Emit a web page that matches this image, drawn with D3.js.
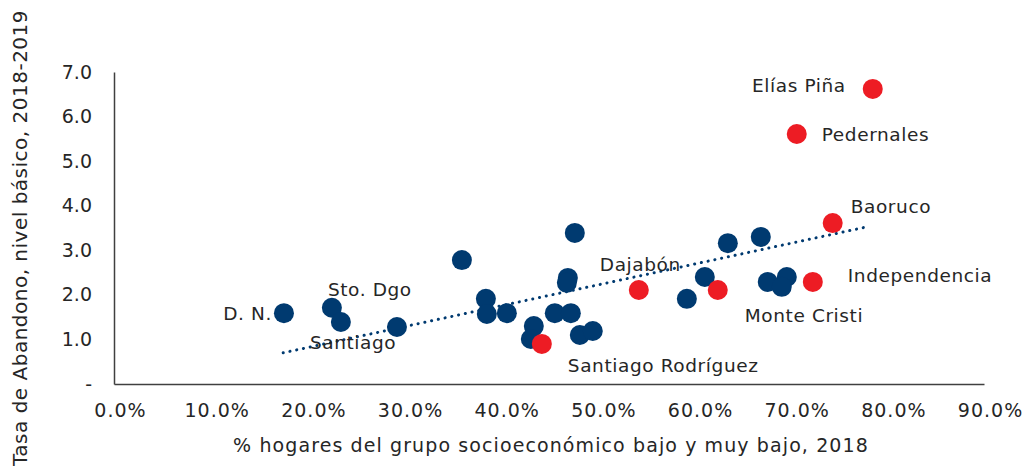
<!DOCTYPE html>
<html>
<head>
<meta charset="utf-8">
<script src="https://cdn.jsdelivr.net/npm/d3@7"></script>
<style>
  html, body { margin: 0; padding: 0; background: #ffffff; }
  svg { display: block; }
  text { font-family: "DejaVu Sans", sans-serif; fill: #262626; }
</style>
</head>
<body>
<div id="chart"></div>
<script>
// ---- Data ----
// x: % households in low / very low socioeconomic group, 2018 (fraction)
// y: dropout rate, basic level, 2018-2019
const provinces = [
  "D. N.", "Sto. Dgo", "Santiago", "P4", "P5", "P6", "P7", "P8", "P9", "P10",
  "Santiago Rodríguez", "P12", "P13", "P14", "P15", "P16", "P17", "P18",
  "Dajabón", "P20", "P21", "Monte Cristi", "P23", "P24", "P25", "P26", "P27",
  "Independencia", "Baoruco", "Pedernales", "Elías Piña"
];
const xValues = [
  0.1758, 0.2254, 0.2347, 0.2927, 0.3599, 0.3847, 0.3857, 0.4064, 0.4343, 0.4312,
  0.4426, 0.4560, 0.4726, 0.4695, 0.4685, 0.4767, 0.4819, 0.4953,
  0.5429, 0.5926, 0.6112, 0.6246, 0.6350, 0.6691, 0.6763, 0.6960, 0.6908,
  0.7229, 0.7435, 0.7063, 0.7849
];
const yValues = [
  1.59, 1.71, 1.39, 1.28, 2.78, 1.91, 1.57, 1.59, 1.30, 1.01,
  0.90, 1.59, 1.59, 2.38, 2.27, 3.39, 1.10, 1.19,
  2.11, 1.91, 2.40, 2.11, 3.16, 3.30, 2.29, 2.40, 2.18,
  2.29, 3.61, 5.61, 6.62
];
// highlighted (border) provinces drawn in red
const highlighted = ["Santiago Rodríguez", "Dajabón", "Monte Cristi", "Independencia", "Baoruco", "Pedernales", "Elías Piña"];
// labelled provinces
const labelled = ["D. N.", "Sto. Dgo", "Santiago", "Santiago Rodríguez", "Dajabón", "Monte Cristi", "Independencia", "Baoruco", "Pedernales", "Elías Piña"];
// linear trend line endpoints
const trendX = [0.175, 0.782];
const trendY = [0.70, 3.54];
// axis ticks
const xTicks = [0, 0.1, 0.2, 0.3, 0.4, 0.5, 0.6, 0.7, 0.8, 0.9];
const yTicks = [0, 1, 2, 3, 4, 5, 6, 7];
const xTitle = "% hogares del grupo socioeconómico bajo y muy bajo, 2018";
const yTitle = "Tasa de Abandono, nivel básico, 2018-2019";

// ---- Styles / layout ----
const W = 1029, H = 473;
const NAVY = "#003a70", RED = "#ed1c24", AXIS = "#404040";
const labelStyle = {
  "D. N.":              { anchor: "end",   dx: -12, dy: 0 },
  "Sto. Dgo":           { anchor: "start", dx: -4,  dy: -18 },
  "Santiago":           { anchor: "start", dx: -31, dy: 20 },
  "Santiago Rodríguez": { anchor: "start", dx: 26,  dy: 22 },
  "Dajabón":            { anchor: "start", dx: -39, dy: -25 },
  "Monte Cristi":       { anchor: "start", dx: 27,  dy: 26 },
  "Independencia":      { anchor: "start", dx: 35,  dy: -6 },
  "Baoruco":            { anchor: "start", dx: 18,  dy: -17 },
  "Pedernales":         { anchor: "start", dx: 25,  dy: 1 },
  "Elías Piña":         { anchor: "end",   dx: -27, dy: -3 }
};

const points = provinces.map((p, i) => ({ name: p, x: xValues[i], y: yValues[i], red: highlighted.includes(p) }));

const svg = d3.select("#chart").append("svg").attr("width", W).attr("height", H);

const x = d3.scaleLinear().domain([0, 0.9]).range([114, 984]);
const y = d3.scaleLinear().domain([0, 7]).range([384, 72]);

// X axis
const xAxis = svg.append("g").attr("transform", "translate(0,384)")
  .call(d3.axisBottom(x).tickValues(xTicks).tickSize(0).tickPadding(20)
    .tickFormat(d => d3.format(".1f")(d * 100) + "%"));
xAxis.select(".domain").attr("stroke", AXIS).attr("stroke-width", 1.5);
xAxis.selectAll("text").attr("font-size", 19).attr("dx", 6).attr("letter-spacing", 1)
  .style("font-family", '"DejaVu Sans", sans-serif').attr("fill", "#262626");

// Y axis
const yAxis = svg.append("g").attr("transform", "translate(114,0)")
  .call(d3.axisLeft(y).tickValues(yTicks).tickSize(0).tickPadding(22)
    .tickFormat(d => d === 0 ? "-" : d3.format(".1f")(d)));
yAxis.select(".domain").attr("stroke", AXIS).attr("stroke-width", 1.5);
yAxis.selectAll("text").attr("font-size", 19).style("font-family", '"DejaVu Sans", sans-serif').attr("fill", "#262626");

// Axis titles
svg.append("text").attr("x", 551).attr("y", 452).attr("text-anchor", "middle")
  .attr("font-size", 19).attr("letter-spacing", 1.1).text(xTitle);
svg.append("text").attr("transform", "translate(27,238) rotate(-90)").attr("text-anchor", "middle")
  .attr("font-size", 20).attr("letter-spacing", 0.5).text(yTitle);

// Trend line (dotted)
const trend = trendX.map((v, i) => [v, trendY[i]]);
svg.append("path").datum(trend)
  .attr("d", d3.line().x(d => x(d[0])).y(d => y(d[1])))
  .attr("fill", "none").attr("stroke", NAVY).attr("stroke-width", 3)
  .attr("stroke-linecap", "round").attr("stroke-dasharray", "0.1 6.8");

// Points
svg.append("g").selectAll("circle").data(points).join("circle")
  .attr("cx", d => x(d.x)).attr("cy", d => y(d.y)).attr("r", 10)
  .attr("fill", d => d.red ? RED : NAVY);

// Labels
svg.append("g").selectAll("text").data(points.filter(d => labelled.includes(d.name))).join("text")
  .attr("x", d => x(d.x) + labelStyle[d.name].dx)
  .attr("y", d => y(d.y) + labelStyle[d.name].dy)
  .attr("dy", "0.35em")
  .attr("text-anchor", d => labelStyle[d.name].anchor)
  .attr("font-size", 18.5).attr("letter-spacing", 0.6)
  .text(d => d.name);
</script>
</body>
</html>
